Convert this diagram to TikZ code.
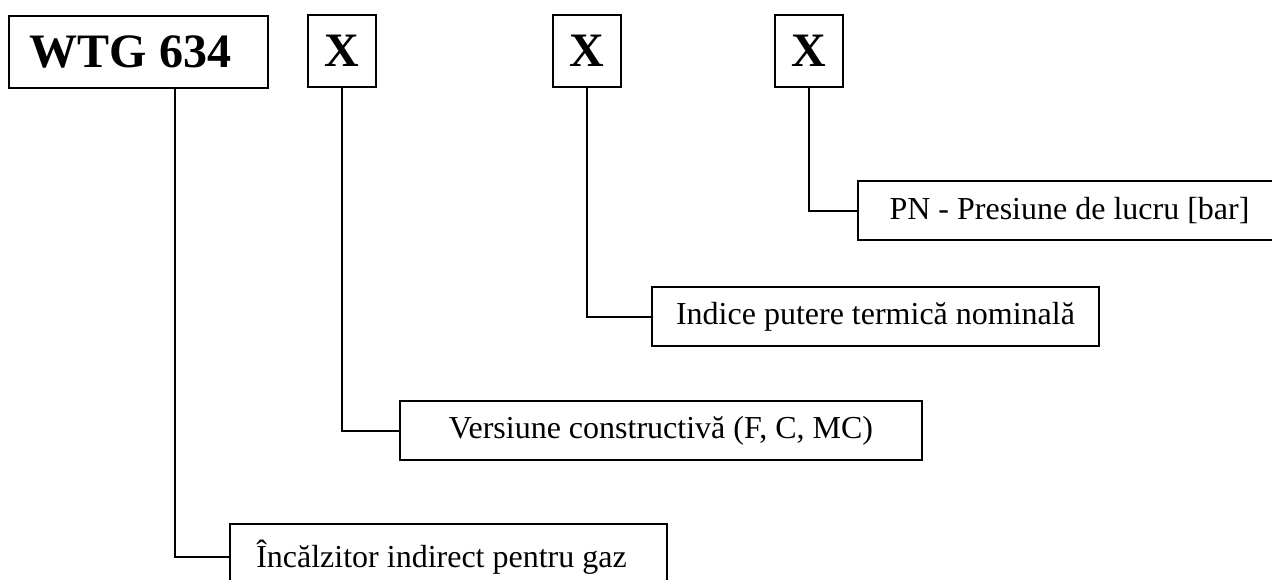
\documentclass[tikz,border=0pt]{standalone}
\usepackage{fontspec}
\setmainfont{Liberation Serif}
\usepackage{tikz}

\begin{document}
\begin{tikzpicture}[x=1pt,y=-1pt]
		\tikzstyle{code}=[rectangle, draw=black, line width=2pt, inner sep=0pt, minimum height=72pt, font=\fontsize{48}{56}\selectfont\bfseries]
		\tikzstyle{meaning}=[rectangle, draw=black, line width=2pt, inner sep=0pt, minimum height=59pt, font=\fontsize{32}{38}\selectfont]
		\tikzstyle{link}=[line width=2pt]

		\useasboundingbox (0,0) rectangle (1272,579);
		\clip (0,0) rectangle (1272,579);

		\node [code, minimum width=259pt] (wtg) at (138.5,52) {WTG 634\hspace*{16pt}};
		\node [code, minimum width=68pt] (x1) at (342,51) {X};
		\node [code, minimum width=68pt] (x2) at (586.5,51) {X};
		\node [code, minimum width=68pt] (x3) at (809,51) {X};

		\node [meaning, minimum width=423pt] (pn) at (1069.5,210.5) {PN - Presiune de lucru [bar]};
		\node [meaning, minimum width=447pt] (indice) at (875.5,316.5) {Indice putere termică nominală};
		\node [meaning, minimum width=522pt] (vers) at (661,430.5) {Versiune constructivă (F, C, MC)};
		\node [meaning, minimum width=437pt, minimum height=66pt] (incalz) at (448.5,557) {\hspace*{-14pt}Încălzitor indirect pentru gaz};

		\draw [link] ([xshift=36.5pt]wtg.south) |- (incalz.west);
		\draw [link] (x1.south) |- (vers.west);
		\draw [link] (x2.south) |- (indice.west);
		\draw [link] (x3.south) |- (pn.west);
	\end{tikzpicture}
\end{document}
